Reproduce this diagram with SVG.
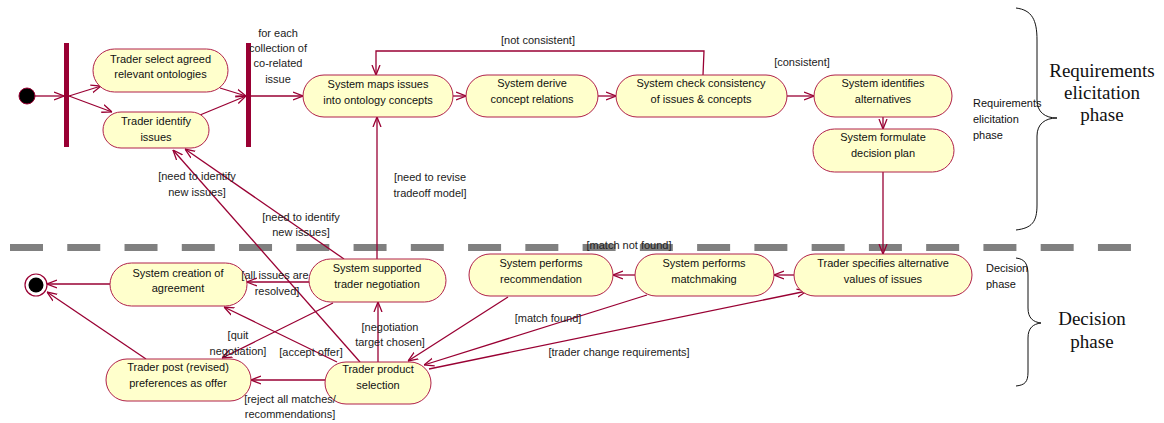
<svg xmlns="http://www.w3.org/2000/svg" width="1164" height="423" viewBox="0 0 1164 423">
<style>
.n{fill:#FFFFCC;stroke:#B0204A;stroke-width:1}
.t{font-family:"Liberation Sans",Arial,sans-serif;font-size:11px;fill:#111;text-anchor:middle}
.l{font-family:"Liberation Sans",Arial,sans-serif;font-size:11px;fill:#222;text-anchor:middle}
.s{font-family:"Liberation Sans",Arial,sans-serif;font-size:11px;fill:#111}
.big{font-family:"Liberation Serif","Times New Roman",serif;font-size:19px;fill:#111;text-anchor:middle}
.e{fill:none;stroke:#990033;stroke-width:1.3;marker-end:url(#a)}
.bar{fill:#990033}
.br{fill:none;stroke:#111;stroke-width:1}
</style>
<defs>
<marker id="a" viewBox="0 0 10 10" refX="10" refY="5" markerWidth="10" markerHeight="10" markerUnits="userSpaceOnUse" orient="auto">
<path d="M0,1 L10,5 L0,9" fill="none" stroke="#990033" stroke-width="1.3"/>
</marker>
</defs>
<rect width="1164" height="423" fill="#fff"/>
<line x1="10" y1="247.5" x2="1131" y2="247.5" stroke="#808080" stroke-width="7" stroke-dasharray="33 24.26"/>
<g id="braces">
<path class="br" d="M1016,8 C1032,10 1037,20 1037,40 L1037,100 C1037,112 1045,118 1057,118 C1045,118 1037,124 1037,136 L1037,205 C1037,222 1032,228 1016,230"/>
<path class="br" d="M1016,258 C1025,259 1028,264 1028,275 L1028,308 C1028,318 1033,322 1041,323 C1033,324 1028,328 1028,338 L1028,372 C1028,382 1025,385 1016,386"/>
<text class="s" x="973" y="107">Requirements</text>
<text class="s" x="973" y="123">elicitation</text>
<text class="s" x="973" y="139">phase</text>
<text class="s" x="986" y="272">Decision</text>
<text class="s" x="986" y="288">phase</text>
<text class="big" x="1102" y="77">Requirements</text>
<text class="big" x="1102" y="99">elicitation</text>
<text class="big" x="1102" y="121">phase</text>
<text class="big" x="1092" y="325">Decision</text>
<text class="big" x="1092" y="348">phase</text>
</g>
<g id="edges">
<line class="e" x1="35" y1="96" x2="64" y2="96"/>
<line class="e" x1="69" y1="96" x2="101" y2="86"/>
<line class="e" x1="69" y1="96" x2="112" y2="112"/>
<line class="e" x1="220" y1="88" x2="246" y2="96"/>
<line class="e" x1="200" y1="115" x2="246" y2="96"/>
<line class="e" x1="251" y1="96" x2="303" y2="96"/>
<line class="e" x1="453" y1="96" x2="466" y2="96"/>
<line class="e" x1="598" y1="96" x2="616" y2="96"/>
<line class="e" x1="787" y1="96" x2="814" y2="96"/>
<line class="e" x1="883" y1="117" x2="883" y2="129"/>
<polyline class="e" points="703,75 704,51 376,51 376,75"/>
<line class="e" x1="883" y1="172" x2="883" y2="254"/>
<line class="e" x1="794" y1="275" x2="774" y2="275"/>
<line class="e" x1="635" y1="275" x2="613" y2="275"/>
<line class="e" x1="508" y1="297" x2="408" y2="361"/>
<line class="e" x1="647" y1="295" x2="424" y2="365"/>
<line class="e" x1="429" y1="369" x2="807" y2="291"/>
<line class="e" x1="378" y1="362" x2="378" y2="302"/>
<line class="e" x1="377" y1="259" x2="377" y2="117"/>
<line class="e" x1="344" y1="259" x2="185" y2="149"/>
<line class="e" x1="360" y1="362" x2="173" y2="150"/>
<line class="e" x1="309" y1="282" x2="247" y2="282"/>
<line class="e" x1="337" y1="362" x2="224" y2="307"/>
<line class="e" x1="333" y1="303" x2="222" y2="358"/>
<line class="e" x1="325" y1="380" x2="251" y2="380"/>
<line class="e" x1="110" y1="284" x2="47" y2="284"/>
<line class="e" x1="146" y1="359" x2="47" y2="292"/>
</g>
<g id="start"><circle cx="27" cy="96" r="8" fill="#000" stroke="#990033" stroke-width="1"/></g>
<g id="end"><circle cx="36" cy="285" r="11" fill="#fff" stroke="#990033" stroke-width="1.2"/><circle cx="36" cy="285" r="7.5" fill="#000"/></g>
<g id="fork1"><rect class="bar" x="64" y="43" width="5" height="104"/></g>
<g id="join1"><rect class="bar" x="246" y="43" width="5" height="104"/></g>
<g id="n1"><rect class="n" x="93" y="49" width="135" height="43" rx="21.5"/><text class="t" x="160.5" y="63">Trader select agreed</text><text class="t" x="160.5" y="78">relevant ontologies</text></g>
<g id="n2"><rect class="n" x="103" y="112" width="106" height="36" rx="18"/><text class="t" x="156" y="125">Trader identify</text><text class="t" x="156" y="141">issues</text></g>
<g id="n3"><rect class="n" x="303" y="75" width="150" height="42" rx="21"/><text class="t" x="378" y="88">System maps issues</text><text class="t" x="378" y="104">into ontology concepts</text></g>
<g id="n4"><rect class="n" x="466" y="75" width="132" height="42" rx="21"/><text class="t" x="532" y="87">System derive</text><text class="t" x="532" y="103">concept relations</text></g>
<g id="n5"><rect class="n" x="616" y="75" width="171" height="42" rx="21"/><text class="t" x="701" y="87">System check consistency</text><text class="t" x="701" y="103">of issues &amp; concepts</text></g>
<g id="n6"><rect class="n" x="814" y="75" width="138" height="42" rx="21"/><text class="t" x="883" y="87">System identifies</text><text class="t" x="883" y="103">alternatives</text></g>
<g id="n7"><rect class="n" x="813" y="129" width="141" height="43" rx="21.5"/><text class="t" x="883" y="141">System formulate</text><text class="t" x="883" y="157">decision plan</text></g>
<g id="n8"><rect class="n" x="794" y="254" width="178" height="42" rx="21"/><text class="t" x="883" y="267">Trader specifies alternative</text><text class="t" x="883" y="283">values of issues</text></g>
<g id="n9"><rect class="n" x="635" y="254" width="139" height="42" rx="21"/><text class="t" x="704" y="267">System performs</text><text class="t" x="704" y="283">matchmaking</text></g>
<g id="n10"><rect class="n" x="469" y="254" width="144" height="42" rx="21"/><text class="t" x="541" y="267">System performs</text><text class="t" x="541" y="283">recommendation</text></g>
<g id="n11"><rect class="n" x="309" y="259" width="137" height="43" rx="21.5"/><text class="t" x="377" y="272">System supported</text><text class="t" x="377" y="288">trader negotiation</text></g>
<g id="n12"><rect class="n" x="110" y="263" width="137" height="43" rx="21.5"/><text class="t" x="178" y="277">System creation of</text><text class="t" x="178" y="292">agreement</text></g>
<g id="n13"><rect class="n" x="106" y="359" width="145" height="42" rx="21"/><text class="t" x="178" y="371">Trader post (revised)</text><text class="t" x="178" y="387">preferences as offer</text></g>
<g id="n14"><rect class="n" x="325" y="362" width="106" height="42" rx="21"/><text class="t" x="378" y="373">Trader product</text><text class="t" x="378" y="389">selection</text></g>
<g id="labels">
<text class="l" x="278" y="37">for each</text>
<text class="l" x="278" y="52">collection of</text>
<text class="l" x="278" y="67">co-related</text>
<text class="l" x="278" y="83">issue</text>
<text class="l" x="538" y="44">[not consistent]</text>
<text class="l" x="802" y="66">[consistent]</text>
<text class="l" x="430" y="181">[need to revise</text>
<text class="l" x="430" y="197">tradeoff model]</text>
<text class="l" x="197" y="180">[need to identify</text>
<text class="l" x="197" y="196">new issues]</text>
<text class="l" x="301" y="221">[need to identify</text>
<text class="l" x="301" y="236">new issues]</text>
<text class="l" x="629" y="249">[match not found]</text>
<text class="l" x="275" y="279">[all issues are</text>
<text class="l" x="277" y="295">resolved]</text>
<text class="l" x="390" y="331">[negotiation</text>
<text class="l" x="390" y="346">target chosen]</text>
<text class="l" x="238" y="339">[quit</text>
<text class="l" x="238" y="355">negotiation]</text>
<text class="l" x="311" y="356">[accept offer]</text>
<text class="l" x="290" y="403">[reject all matches/</text>
<text class="l" x="290" y="418">recommendations]</text>
<text class="l" x="548" y="322">[match found]</text>
<text class="l" x="619" y="356">[trader change requirements]</text>
</g>
</svg>
